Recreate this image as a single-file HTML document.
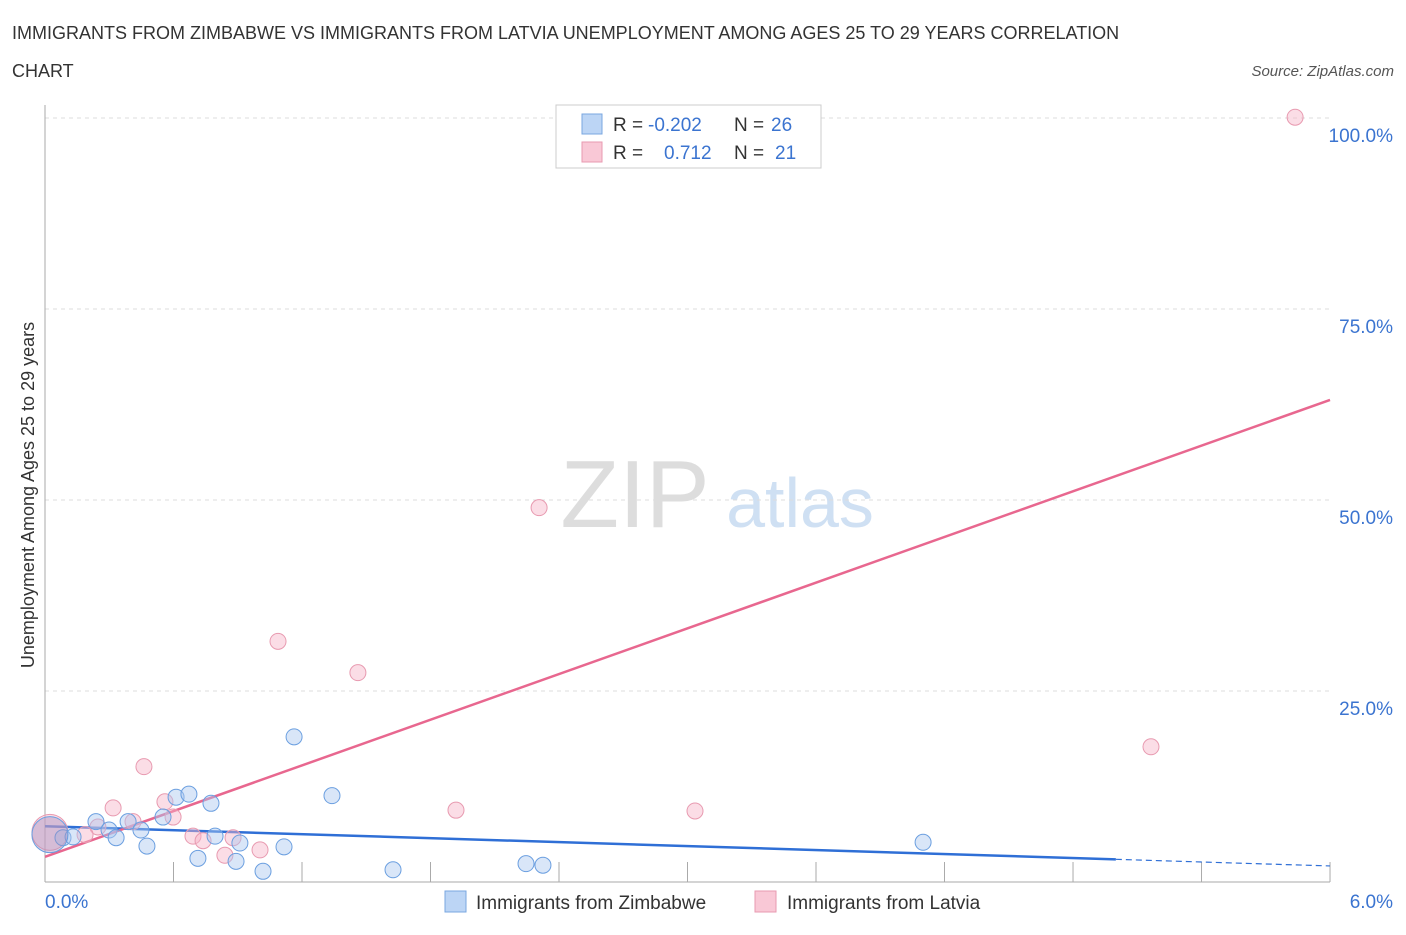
<!DOCTYPE html>
<html><head><meta charset="utf-8"><style>
body{margin:0;background:#fff;font-family:"Liberation Sans",sans-serif;}
svg text{font-family:"Liberation Sans",sans-serif;}
</style></head><body>
<svg id="chart" width="1406" height="930" xmlns="http://www.w3.org/2000/svg">
<text x="12" y="39" font-size="18" fill="#333">IMMIGRANTS FROM ZIMBABWE VS IMMIGRANTS FROM LATVIA UNEMPLOYMENT AMONG AGES 25 TO 29 YEARS CORRELATION</text>
<text x="12" y="77" font-size="18" fill="#333">CHART</text>
<text x="1394" y="76" font-size="15" fill="#555" font-style="italic" text-anchor="end">Source: ZipAtlas.com</text>
<text x="635" y="527" font-size="96" fill="#ddd" font-family="Liberation Serif" text-anchor="middle">ZIP</text>
<text x="800" y="527" font-size="70" fill="#cfe0f3" text-anchor="middle">atlas</text>
<g id="grid"></g><g id="axes"></g><g id="lines"></g><g id="pts"></g>
<text x="34" y="495" font-size="18" fill="#333" text-anchor="middle" transform="rotate(-90 34 495)">Unemployment Among Ages 25 to 29 years</text>
<g>
<rect x="556" y="105" width="265" height="63" fill="#fff" stroke="#ccc"/>
<rect x="582" y="114" width="20" height="20" fill="#bcd5f5" stroke="#7aa7e0"/>
<rect x="582" y="142" width="20" height="20" fill="#f9c8d6" stroke="#e89ab0"/>
<text x="613" y="131" font-size="19" fill="#333">R = </text><text x="648" y="131" font-size="19" fill="#3b74d0">-0.202</text>
<text x="734" y="131" font-size="19" fill="#333">N = </text><text x="771" y="131" font-size="19" fill="#3b74d0">26</text>
<text x="613" y="159" font-size="19" fill="#333">R = </text><text x="664" y="159" font-size="19" fill="#3b74d0">0.712</text>
<text x="734" y="159" font-size="19" fill="#333">N = </text><text x="775" y="159" font-size="19" fill="#3b74d0">21</text>
</g>
<g>
<rect x="445" y="891" width="21" height="21" fill="#bcd5f5" stroke="#7aa7e0"/>
<text x="476" y="909" font-size="19" fill="#333">Immigrants from Zimbabwe</text>
<rect x="755" y="891" width="21" height="21" fill="#f9c8d6" stroke="#e89ab0"/>
<text x="787" y="909" font-size="19" fill="#333">Immigrants from Latvia</text>
</g>
</svg>
<script>
const xTickLabels=["0.0%","6.0%"];
const yTicks=[25,50,75,100];
const yTickLabels=["25.0%","50.0%","75.0%","100.0%"];
const blueX=[1.163,1.340,0.612,0.672,0.775,0.238,0.299,0.388,0.551,0.448,0.332,0.084,0.476,0.794,0.910,0.714,0.892,1.018,1.116,0.131,1.625,2.246,2.325,4.100,0.023];
const blueY=[19.0,11.3,11.1,11.5,10.3,7.9,6.8,7.9,8.5,6.8,5.8,5.8,4.7,6.0,5.1,3.1,2.7,1.4,4.6,5.9,1.6,2.4,2.2,5.2,6.2];
const pinkX=[0.462,0.318,0.560,0.598,0.247,0.411,0.187,0.691,0.738,0.878,0.840,1.004,1.088,1.461,2.307,1.919,3.035,5.164,5.837,0.023];
const pinkY=[15.1,9.7,10.5,8.5,7.2,7.9,6.2,6.0,5.4,5.8,3.5,4.2,31.5,27.4,49.0,9.4,9.3,17.7,100.1,6.5];
const blueTrend=[7.3,2.1];
const pinkTrend=[3.3,63.1];
const blueSolidEnd=5.0;
const X=v=>45+v*214.17, Y=v=>882-v*7.64;
const NS="http://www.w3.org/2000/svg";
function mk(t,a,p){const e=document.createElementNS(NS,t);for(const k in a)e.setAttribute(k,a[k]);document.getElementById(p).appendChild(e);return e;}
yTicks.forEach((t,i)=>{
 const g=mk('line',{x1:45,x2:1330,y1:Y(t),y2:Y(t),stroke:'#ddd','stroke-dasharray':'4,4'},'grid');
 
 
 const l=mk('text',{x:1393,y:Y(t)+24,'font-size':19,fill:'#3b74d0','text-anchor':'end'},'axes');
 l.textContent=yTickLabels[i];
 
 
});
const gt=mk('line',{x1:45,x2:1330,y1:Y(100),y2:Y(100),stroke:'#ddd','stroke-dasharray':'4,4'},'grid');
const ya=mk('line',{x1:45,x2:45,y1:105,y2:882,stroke:'#aaa'},'axes');


const xa=mk('line',{x1:45,x2:1330,y1:882,y2:882,stroke:'#aaa'},'axes');


for(let i=1;i<=10;i++){const t=mk('line',{x1:X(i*0.6),x2:X(i*0.6),y1:862,y2:882,stroke:'#aaa'},'axes');
 
 }
const xl0=mk('text',{x:45,y:908,'font-size':19,fill:'#3b74d0'},'axes');xl0.textContent=xTickLabels[0];


const xl1=mk('text',{x:1393,y:908,'font-size':19,fill:'#3b74d0','text-anchor':'end'},'axes');xl1.textContent=xTickLabels[1];


const bAt=x=>blueTrend[0]+(blueTrend[1]-blueTrend[0])*x/6;
const b1=mk('line',{x1:X(0),y1:Y(bAt(0)),x2:X(blueSolidEnd),y2:Y(bAt(blueSolidEnd)),stroke:'#2f6fd6','stroke-width':2.5},'lines');


const b2=mk('line',{x1:X(blueSolidEnd),y1:Y(bAt(blueSolidEnd)),x2:X(6),y2:Y(bAt(6)),stroke:'#2f6fd6','stroke-width':1.2,'stroke-dasharray':'6,4'},'lines');


const p1=mk('line',{x1:X(0),y1:Y(pinkTrend[0]),x2:X(6),y2:Y(pinkTrend[1]),stroke:'#e8678f','stroke-width':2.5},'lines');


pinkX.forEach((x,i)=>{const big=i===pinkX.length-1;
 const c=mk('circle',{cx:X(x),cy:Y(pinkY[i]),r:big?18:8,fill:'rgba(246,180,200,0.45)',stroke:'#e89ab0','stroke-width':1},'pts');
 
 });
blueX.forEach((x,i)=>{const big=i===blueX.length-1;
 const c=mk('circle',{cx:X(x),cy:Y(blueY[i]),r:big?18:8,fill:big?'rgba(160,140,190,0.4)':'rgba(170,200,240,0.45)',stroke:'#6b9fe0','stroke-width':1},'pts');
 
 });
</script>
</body></html>
